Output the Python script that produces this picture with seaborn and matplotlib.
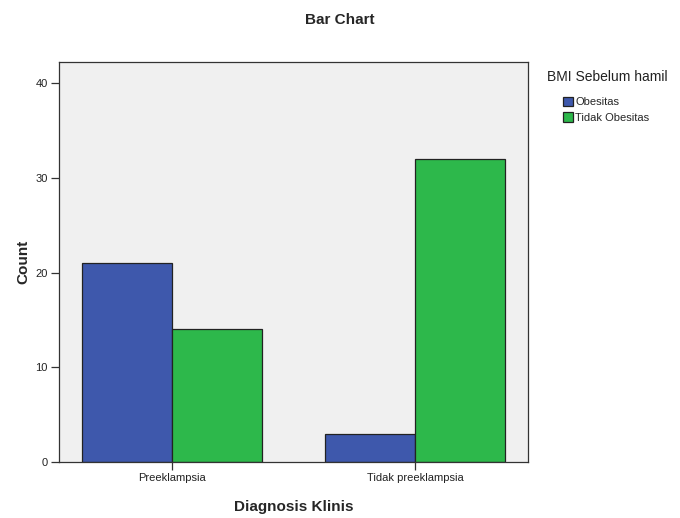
import pandas as pd
import matplotlib
matplotlib.use("Agg")
import matplotlib.pyplot as plt
import seaborn as sns

# data
diagnosis = ["Preeklampsia", "Tidak preeklampsia"]
bmi_groups = ["Obesitas", "Tidak Obesitas"]
obesitas_counts = [21, 3]
tidak_obesitas_counts = [14, 32]

df = pd.DataFrame({
    "Diagnosis Klinis": diagnosis * 2,
    "BMI Sebelum hamil": [bmi_groups[0]] * 2 + [bmi_groups[1]] * 2,
    "Count": obesitas_counts + tidak_obesitas_counts,
})

sns.set_theme(style="white")
plt.rcParams["font.family"] = ["Liberation Sans", "DejaVu Sans"]

fig = plt.figure(figsize=(6.8, 5.18), dpi=100)
ax = fig.add_axes([0.0868, 0.108, 0.6897, 0.772])
ax.set_facecolor("#F0F0F0")

sns.barplot(data=df, x="Diagnosis Klinis", y="Count", hue="BMI Sebelum hamil",
            palette=["#3E58AC", "#2DB84B"], width=0.74, edgecolor="#222222",
            linewidth=0.9, saturation=1, ax=ax)

ax.set_xlim(-0.465, 1.465)
ax.set_ylim(0, 42.2)
ax.set_yticks([0, 10, 20, 30, 40])

for s in ax.spines.values():
    s.set_color("#333333")
    s.set_linewidth(0.9)

ax.tick_params(axis="both", which="both", direction="out", length=6, width=0.9,
               color="#333333", labelsize=8, labelcolor="#222222", pad=2,
               left=True, bottom=True)

ax.set_xlabel("Diagnosis Klinis", fontsize=11, fontweight="bold", labelpad=12)
ax.set_ylabel("Count", fontsize=11, fontweight="bold", labelpad=4)

fig.suptitle("Bar Chart", x=0.5, y=0.975, fontsize=11, fontweight="bold")

# legend: title on its own, entries indented below it (SPSS look)
handles, labels = ax.get_legend_handles_labels()
ax.legend_.remove()
fig.text(0.804, 1 - 77 / 518, "BMI Sebelum hamil", fontsize=10,
         ha="left", va="center", color="#222222")
fig.legend(handles, labels, loc="upper left",
           bbox_to_anchor=(0.828, 1 - 97 / 518), frameon=False, fontsize=8,
           handlelength=0.9, handleheight=0.9, borderpad=0, borderaxespad=0,
           handletextpad=0.2, labelspacing=0.45)

fig.savefig("out.png", dpi=100)
